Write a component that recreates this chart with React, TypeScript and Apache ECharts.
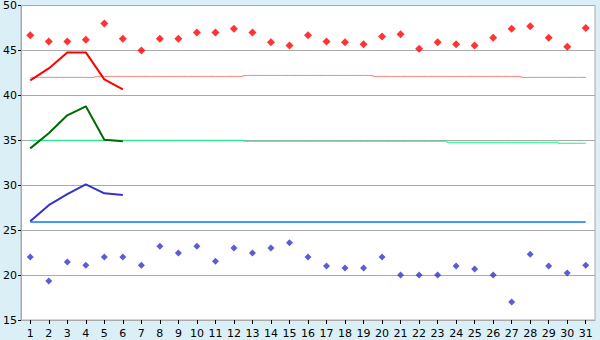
import React, { useEffect, useRef } from "react";
import * as echarts from "echarts";

const categories = ["1","2","3","4","5","6","7","8","9","10","11","12","13","14","15","16","17","18","19","20","21","22","23","24","25","26","27","28","29","30","31"];

const redPoints = [46.7, 46.0, 46.0, 46.2, 48.0, 46.3, 45.0, 46.3, 46.3, 47.0, 47.0, 47.4, 47.0, 45.9, 45.55, 46.7, 46.0, 45.9, 45.7, 46.55, 46.8, 45.2, 45.9, 45.7, 45.55, 46.4, 47.4, 47.7, 46.4, 45.4, 47.5];
const bluePoints = [22.0, 19.33, 21.45, 21.1, 22.0, 22.0, 21.1, 23.2, 22.45, 23.2, 21.55, 23.0, 22.45, 23.0, 23.6, 22.0, 21.0, 20.78, 20.78, 22.0, 20.0, 20.0, 20.0, 21.0, 20.67, 20.0, 17.0, 22.33, 21.0, 20.22, 21.1];

const redLine = [41.67, 43.0, 44.78, 44.78, 41.78, 40.67];
const greenLine = [34.1, 35.78, 37.78, 38.78, 35.07, 34.9];
const blueLine = [26.0, 27.78, 29.0, 30.1, 29.1, 28.9];

const redRef = [42.0, 42.0, 42.0, 42.0, 42.11, 42.11, 42.11, 42.11, 42.11, 42.11, 42.11, 42.11, 42.22, 42.22, 42.22, 42.22, 42.22, 42.22, 42.22, 42.11, 42.11, 42.11, 42.11, 42.11, 42.11, 42.11, 42.11, 42.0, 42.0, 42.0, 42.0];
const greenRef = [35.0, 35.0, 35.0, 35.0, 35.0, 35.0, 35.0, 35.0, 35.0, 35.0, 35.0, 35.0, 34.89, 34.89, 34.89, 34.89, 34.89, 34.89, 34.89, 34.89, 34.89, 34.89, 34.89, 34.78, 34.78, 34.78, 34.78, 34.78, 34.78, 34.67, 34.67];
const blueRef = [25.9, 25.9, 25.9, 25.9, 25.9, 25.9, 25.9, 25.9, 25.9, 25.9, 25.9, 25.9, 25.9, 25.9, 25.9, 25.9, 25.9, 25.9, 25.9, 25.9, 25.9, 25.9, 25.9, 25.9, 25.9, 25.9, 25.9, 25.9, 25.9, 25.9, 25.9];

const FONT = "DejaVu Sans";

export default function App() {
  const ref = useRef<HTMLDivElement>(null);
  useEffect(() => {
    if (!ref.current) return;
    const chart = echarts.init(ref.current, null, { renderer: "svg" });
    const refLine = (data: number[], color: string, width: number) => ({
      type: "line",
      data,
      step: "middle",
      showSymbol: false,
      symbol: "none",
      lineStyle: { color, width },
      itemStyle: { color },
      z: 2,
    });
    const trendLine = (data: number[], color: string) => ({
      type: "line",
      data,
      showSymbol: false,
      symbol: "none",
      lineStyle: { color, width: 2 },
      itemStyle: { color },
      z: 3,
    });
    chart.setOption({
      animation: false,
      backgroundColor: "#daeff6",
      textStyle: { fontFamily: FONT },
      grid: {
        left: 20,
        right: 5,
        top: 5,
        bottom: 20,
        show: true,
        backgroundColor: "#ffffff",
        borderColor: "#aaaaaa",
        borderWidth: 1,
        containLabel: false,
      },
      xAxis: {
        type: "category",
        data: categories,
        boundaryGap: true,
        axisLine: { show: true, lineStyle: { color: "#aaaaaa", width: 1 } },
        axisTick: { show: true, alignWithLabel: true, length: 4, lineStyle: { color: "#000000" } },
        axisLabel: { color: "#000000", fontFamily: FONT, fontSize: 11, margin: 8, interval: 0 },
        splitLine: { show: false },
      },
      yAxis: {
        type: "value",
        min: 15,
        max: 50,
        interval: 5,
        axisLine: { show: true, lineStyle: { color: "#aaaaaa", width: 1 } },
        axisTick: { show: true, length: 3, lineStyle: { color: "#000000" } },
        axisLabel: { color: "#000000", fontFamily: FONT, fontSize: 11, margin: 4 },
        splitLine: { show: true, lineStyle: { color: "#aaaaaa", width: 1 } },
      },
      series: [
        refLine(redRef, "#ff8080", 1),
        refLine(greenRef, "#00ff80", 1),
        refLine(blueRef, "#0a78ff", 1.5),
        trendLine(redLine, "#ff0000"),
        trendLine(greenLine, "#006a00"),
        trendLine(blueLine, "#3333cc"),
        {
          type: "scatter",
          data: redPoints,
          symbol: "diamond",
          symbolSize: 8,
          itemStyle: { color: "#ff0000" },
          z: 4,
        },
        {
          type: "scatter",
          data: bluePoints,
          symbol: "diamond",
          symbolSize: 7,
          itemStyle: { color: "#3333cc" },
          z: 4,
        },
      ],
    });
    return () => chart.dispose();
  }, []);
  return (
    <div
      ref={ref}
      style={{ position: "fixed", left: 0, top: 0, width: 600, height: 340 }}
    />
  );
}
